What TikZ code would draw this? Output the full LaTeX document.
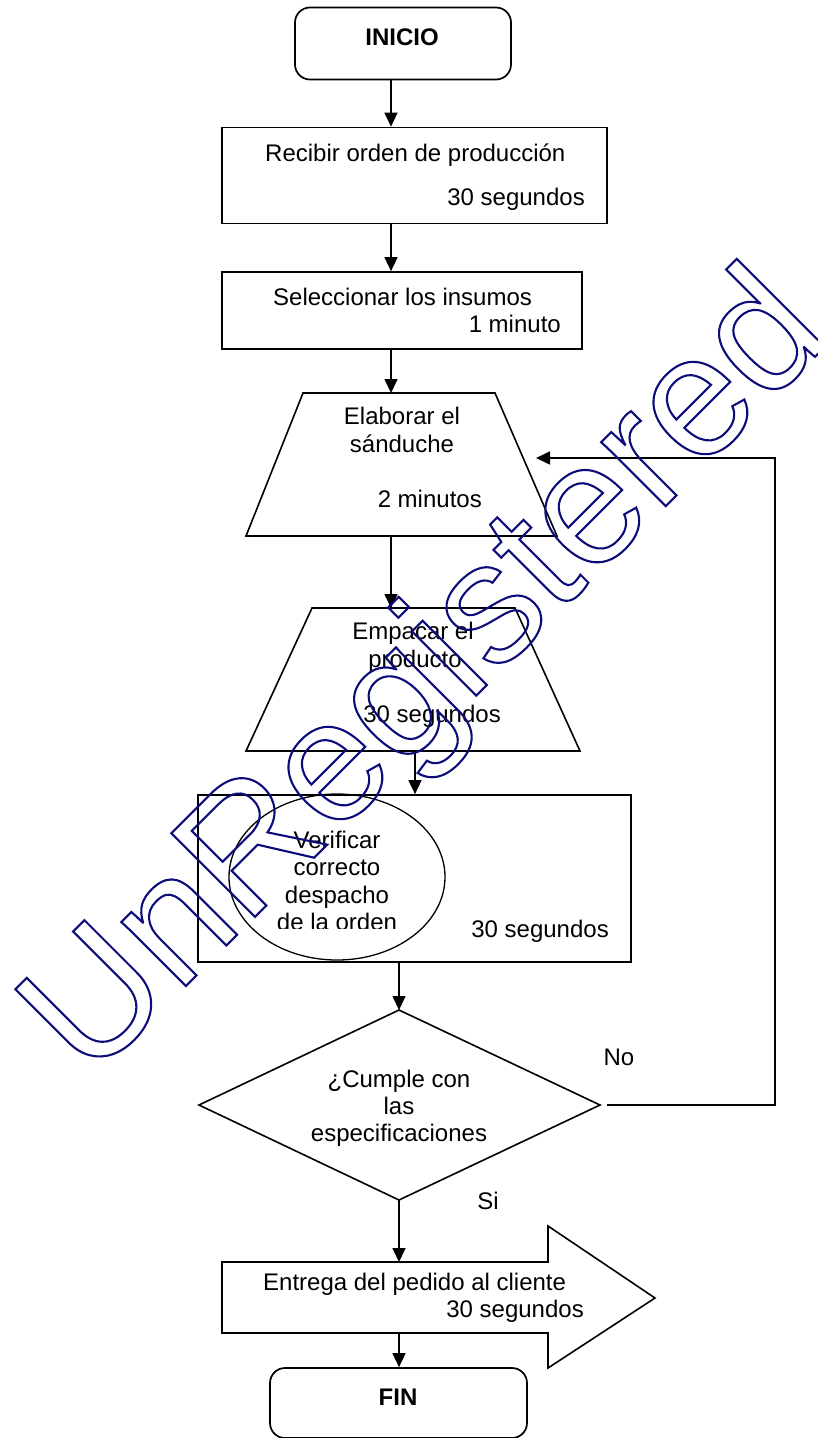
\documentclass[tikz,border=0pt]{standalone}
\usepackage{fontspec}
\setmainfont{Liberation Sans}
\usetikzlibrary{arrows.meta,shapes.geometric}
\definecolor{wm}{RGB}{12,12,122}
\newcommand{\outl}[1]{\special{pdf:literal direct 1 Tr 2.1 w}#1\special{pdf:literal direct 0 Tr}}
\begin{document}
\begin{tikzpicture}[x=1pt,y=-1pt,
  box/.style={draw, line width=1.7pt, inner sep=0pt},
  rbox/.style={box, rounded corners=15pt},
  txt/.style={font=\fontsize{24}{27}\selectfont, inner sep=0pt, anchor=base},
  btxt/.style={txt, font=\fontsize{24}{27}\selectfont\bfseries},
  arr/.style={-{Triangle[length=14pt,width=13pt]}, line width=1.6pt},
  shp/.style={line width=1.6pt, line join=miter}]
\useasboundingbox (0,0) rectangle (817,1438);
\fill[white] (0,0) rectangle (817,1438);
% x positions of vertical connectors
\coordinate (xa) at (391,0);
\coordinate (xb) at (415,0);
\coordinate (xc) at (399,0);
\coordinate (xr) at (775,0);
% INICIO
\node[rbox, minimum width=216pt, minimum height=72pt] (ini) at (403,43.5) {};
\node[btxt] (tini) at (402,45) {INICIO};
% Recibir
\node[box, minimum width=385pt, minimum height=96pt] (rec) at (414.5,175.5) {};
\node[txt, anchor=base west] (trec1) at (265,161) {Recibir orden de producción};
\node[txt, anchor=base east] (trec2) at (585,205) {30 segundos};
% Seleccionar
\node[box, minimum width=360pt, minimum height=77pt] (sel) at (402,310.5) {};
\node[txt, anchor=base west] (tsel1) at (273,305) {Seleccionar los insumos};
\node[txt, anchor=base east] (tsel2) at (561,332) {1 minuto};
% Elaborar (trapezoid)
\coordinate (e1) at (303,393);
\coordinate (e2) at (495,393);
\coordinate (e3) at (557,536);
\coordinate (e4) at (246,536);
\draw[shp] (e1) -- (e2) -- (e3) -- (e4) -- cycle;
\coordinate (etop) at (399,393);
\coordinate (ebot) at (401,536);
\node[txt] (tel1) at (402,424) {Elaborar el};
\node[txt] (tel2) at (402,452) {sánduche};
\node[txt, anchor=base east] (tel3) at (482,507) {2 minutos};
% Empacar (trapezoid)
\coordinate (p1) at (312,608);
\coordinate (p2) at (515,608);
\coordinate (p3) at (580,751);
\coordinate (p4) at (246,751);
\draw[shp] (p1) -- (p2) -- (p3) -- (p4) -- cycle;
\coordinate (ptop) at (413,608);
\coordinate (pbot) at (413,751);
\node[txt] (tem1) at (413,639) {Empacar el};
\node[txt] (tem2) at (415,667) {producto};
\node[txt, anchor=base east] (tem3) at (501,722) {30 segundos};
% Verificar
\node[box, minimum width=433pt, minimum height=167pt] (ver) at (414.5,878.5) {};
\node[draw, ellipse, line width=1.3pt, minimum width=216pt, minimum height=166pt, inner sep=0pt] (ell) at (337,877) {};
\begin{scope}
\clip (200,790) rectangle (630,928);
\node[txt] (tv1) at (337,848) {Verificar};
\node[txt] (tv2) at (337,875.5) {correcto};
\node[txt] (tv3) at (337,903) {despacho};
\node[txt] (tv4) at (337,930.5) {de la orden};
\end{scope}
\node[txt, anchor=base east] (tv5) at (609,937) {30 segundos};
% Decision diamond
\coordinate (dT) at (399,1010);
\coordinate (dR) at (600,1105);
\coordinate (dB) at (399,1200);
\coordinate (dL) at (199,1105);
\draw[shp] (dT) -- (dR) -- (dB) -- (dL) -- cycle;
\node[txt] (td1) at (399,1087) {¿Cumple con};
\node[txt] (td2) at (399,1114) {las};
\node[txt] (td3) at (399,1141) {especificaciones};
\node[txt] (tno) at (619,1065) {No};
\node[txt] (tsi) at (488,1209) {Si};
% Entrega (block arrow)
\coordinate (a1) at (222,1262);
\coordinate (a2) at (548,1262);
\coordinate (a3) at (548,1226);
\coordinate (a4) at (655,1298);
\coordinate (a5) at (548,1368);
\coordinate (a6) at (548,1333);
\coordinate (a7) at (222,1333);
\draw[shp] (a1) -- (a2) -- (a3) -- (a4) -- (a5) -- (a6) -- (a7) -- cycle;
\node[txt, anchor=base west] (ten1) at (263,1290) {Entrega del pedido al cliente};
\node[txt, anchor=base east] (ten2) at (584,1317) {30 segundos};
% FIN
\node[rbox, minimum width=257pt, minimum height=70pt] (fin) at (398.5,1403) {};
\node[btxt] (tfin) at (398,1405) {FIN};
% connectors
\draw[arr] (ini.south -| xa) -- (rec.north -| xa);
\draw[arr] (rec.south -| xa) -- (sel.north -| xa);
\draw[arr] (sel.south -| xa) -- (etop -| xa);
\draw[arr] (ebot -| xa) -- (ptop -| xa);
\draw[arr] (pbot -| xb) -- (ver.north -| xb);
\draw[arr] (ver.south -| xc) -- (dT);
\draw[arr] (dB) -- (a1 -| xc);
\draw[arr] (a7 -| xc) -- (fin.north -| xc);
\coordinate (fbs) at (607,1105);
\coordinate (fb) at (536,458);
\draw[arr, line join=miter] (fbs) -- (fbs -| xr) -- (fb -| xr) -- (fb);
% watermark
\node[rotate=45, inner sep=0pt, text=wm, font=\fontsize{172}{172}\selectfont] (wmk) at (430,679) {\outl{UnRegistered}};
\end{tikzpicture}
\end{document}
